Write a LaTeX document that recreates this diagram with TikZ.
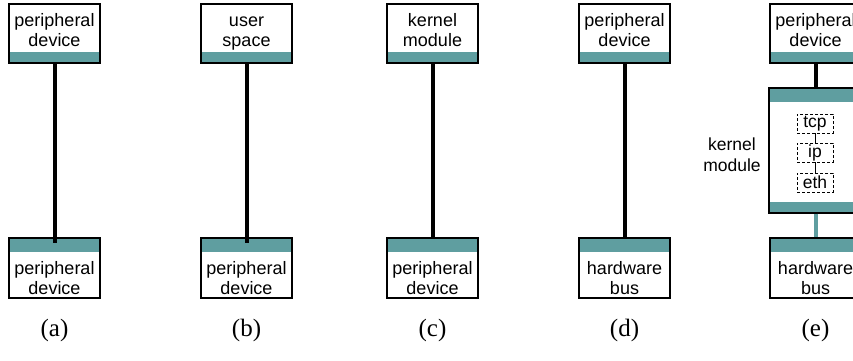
\documentclass[tikz,border=0pt]{standalone}
\usepackage{fontspec}
\setmainfont{Liberation Sans}
\newfontfamily\capfont{Liberation Serif}
\definecolor{band}{RGB}{95,158,160}
\tikzset{
  x=1pt, y=-1pt,
  unitbox/.style={draw=black, line width=1.2pt, fill=white, inner sep=0pt,
    minimum width=91pt},
  topbox/.style={unitbox, minimum height=59pt,
    path picture={\fill[band] (path picture bounding box.south west)
      rectangle ([yshift=11pt]path picture bounding box.south east);}},
  botbox/.style={unitbox, minimum height=60pt,
    path picture={\fill[band] (path picture bounding box.north west)
      rectangle ([yshift=-14pt]path picture bounding box.north east);}},
  modbox/.style={unitbox, minimum width=93pt, minimum height=125pt,
    path picture={\fill[band] (path picture bounding box.north west)
      rectangle ([yshift=-14pt]path picture bounding box.north east);
      \fill[band] (path picture bounding box.south west)
      rectangle ([yshift=11pt]path picture bounding box.south east);}},
  boxtext/.style={align=center, inner sep=0pt,
    font=\fontsize{18}{20}\selectfont},
  sidetext/.style={align=center, inner sep=0pt,
    font=\fontsize{17.5}{21}\selectfont},
  layerbox/.style={draw=black, densely dashed, line width=0.8pt, inner sep=0pt,
    minimum width=36pt, minimum height=19pt, font=\fontsize{17.5}{18}\selectfont},
  wire/.style={line width=4pt, black},
  buswire/.style={line width=4pt, band},
  layerwire/.style={line width=1pt, black},
  caption/.style={font=\capfont\fontsize{25}{28}\selectfont, inner sep=0pt}
}
\newcommand{\twolines}[2]{\strut#1\\\strut#2}
\begin{document}
\begin{tikzpicture}
\useasboundingbox (0,0) rectangle (853,360);

% (a) peripheral device to peripheral device
\node[topbox] (a1) at (54.5,33.5) {};
\node[botbox] (a2) at (54.5,268) {};
\node[boxtext] at ([yshift=1.5pt]a1.center) {\twolines{peripheral}{device}};
\node[boxtext] at ([yshift=-12pt]a2.center) {\twolines{peripheral}{device}};
\draw[wire] (a1.south) -- ([yshift=-6pt]a2.north);
\node[caption] (ca) at (54.5,330) {(a)};

% (b) user space to peripheral device
\node[topbox] (b1) at (246.5,33.5) {};
\node[botbox] (b2) at (246.5,268) {};
\node[boxtext] at ([yshift=1.5pt]b1.center) {\twolines{user}{space}};
\node[boxtext] at ([yshift=-12pt]b2.center) {\twolines{peripheral}{device}};
\draw[wire] (b1.south) -- ([yshift=-6pt]b2.north);
\node[caption] (cb) at (246.5,330) {(b)};

% (c) kernel module to peripheral device
\node[topbox] (c1) at (432.5,33.5) {};
\node[botbox] (c2) at (432.5,268) {};
\node[boxtext] at ([yshift=1.5pt]c1.center) {\twolines{kernel}{module}};
\node[boxtext] at ([yshift=-12pt]c2.center) {\twolines{peripheral}{device}};
\draw[wire] (c1.south) -- (c2.north);
\node[caption] (cc) at (432.5,330) {(c)};

% (d) peripheral device to hardware bus
\node[topbox] (d1) at (624.5,33.5) {};
\node[botbox] (d2) at (624.5,268) {};
\node[boxtext] at ([yshift=1.5pt]d1.center) {\twolines{peripheral}{device}};
\node[boxtext] at ([yshift=-12pt]d2.center) {\twolines{hardware}{bus}};
\draw[wire] (d1.south) -- (d2.north);
\node[caption] (cd) at (624.5,330) {(d)};

% (e) peripheral device, network stack module, hardware bus
\node[topbox] (e1) at (815.5,33.5) {};
\node[modbox] (em) at (815.5,150.5) {};
\node[botbox] (e2) at (815.5,268) {};
\node[boxtext] at ([yshift=1.5pt]e1.center) {\twolines{peripheral}{device}};
\node[boxtext] at ([yshift=-12pt]e2.center) {\twolines{hardware}{bus}};
\node[sidetext] (ek) at (732,156.5) {\twolines{kernel}{module}};
\node[layerbox] (tcp) at (815,123.5) {tcp};
\node[layerbox] (ip) at (815,152.5) {ip};
\node[layerbox] (eth) at (815,182.5) {eth};
\draw[layerwire] (tcp.south) -- (ip.north);
\draw[layerwire] (ip.south) -- (eth.north);
\draw[wire] (e1.south) -- (em.north);
\draw[buswire] (em.south) -- (e2.north);
\node[caption] (ce) at (815.5,330) {(e)};
\end{tikzpicture}
\end{document}
